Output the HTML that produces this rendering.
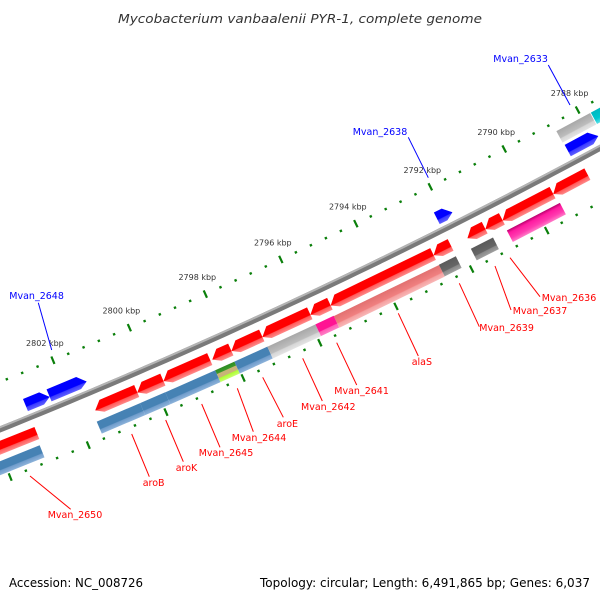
<!DOCTYPE html>
<html><head><meta charset="utf-8"><style>
html,body{margin:0;padding:0;background:#fff;width:600px;height:600px;overflow:hidden}
svg{display:block}
</style></head><body>
<svg id="map" xmlns="http://www.w3.org/2000/svg" width="600" height="600" viewBox="0 0 600 600">
<defs>
<linearGradient id="g-red" x1="0" y1="0" x2="0" y2="1"><stop offset="0" stop-color="#ff0000"/><stop offset="0.62" stop-color="#ff0000"/><stop offset="0.68" stop-color="#ff5a5a"/><stop offset="1" stop-color="#ff8a8a"/></linearGradient>
<linearGradient id="g-steel" x1="0" y1="0" x2="0" y2="1"><stop offset="0" stop-color="#4682b4"/><stop offset="0.62" stop-color="#4682b4"/><stop offset="0.68" stop-color="#6f9ccb"/><stop offset="1" stop-color="#8db3da"/></linearGradient>
<linearGradient id="g-grey" x1="0" y1="0" x2="0" y2="1"><stop offset="0" stop-color="#a8a8a8"/><stop offset="0.6" stop-color="#bdbdbd"/><stop offset="0.68" stop-color="#d6d6d6"/><stop offset="1" stop-color="#e4e4e4"/></linearGradient>
<linearGradient id="g-dgrey" x1="0" y1="0" x2="0" y2="1"><stop offset="0" stop-color="#5a5a5a"/><stop offset="0.62" stop-color="#666"/><stop offset="0.68" stop-color="#888"/><stop offset="1" stop-color="#a0a0a0"/></linearGradient>
<linearGradient id="g-mag" x1="0" y1="0" x2="0" y2="1"><stop offset="0" stop-color="#ff1493"/><stop offset="0.62" stop-color="#ff1493"/><stop offset="0.68" stop-color="#ff5cb4"/><stop offset="1" stop-color="#ff80c8"/></linearGradient>
<linearGradient id="g-pink" x1="0" y1="0" x2="0" y2="1"><stop offset="0" stop-color="#b8006c"/><stop offset="0.25" stop-color="#ff1aa0"/><stop offset="0.68" stop-color="#ff3cb0"/><stop offset="1" stop-color="#ff7cc8"/></linearGradient>
<linearGradient id="g-salmon" x1="0" y1="0" x2="0" y2="1"><stop offset="0" stop-color="#e27070"/><stop offset="0.6" stop-color="#f08080"/><stop offset="0.68" stop-color="#f5a0a0"/><stop offset="1" stop-color="#f8b8b8"/></linearGradient>
<linearGradient id="g-blue" x1="0" y1="0" x2="0" y2="1"><stop offset="0" stop-color="#0000ff"/><stop offset="0.62" stop-color="#0000ff"/><stop offset="0.68" stop-color="#3a3aff"/><stop offset="1" stop-color="#6060ff"/></linearGradient>
<linearGradient id="g-cyan" x1="0" y1="0" x2="0" y2="1"><stop offset="0" stop-color="#00b8c0"/><stop offset="0.62" stop-color="#00c8d0"/><stop offset="1" stop-color="#60e0e8"/></linearGradient>
<linearGradient id="g-multi" x1="0" y1="0" x2="0" y2="1"><stop offset="0" stop-color="#2e8b22"/><stop offset="0.3" stop-color="#3a9a2a"/><stop offset="0.34" stop-color="#c8b478"/><stop offset="0.66" stop-color="#c8b478"/><stop offset="0.7" stop-color="#adff2f"/><stop offset="1" stop-color="#c8ff70"/></linearGradient>
</defs>
<text x="300" y="23" text-anchor="middle" font-family="DejaVu Sans, Liberation Sans, sans-serif" font-style="italic" font-size="12.5" fill="#333" textLength="364" lengthAdjust="spacingAndGlyphs">Mycobacterium vanbaalenii PYR-1, complete genome</text>
<text x="9" y="587" font-family="DejaVu Sans, Liberation Sans, sans-serif" font-size="12" fill="#000" textLength="134" lengthAdjust="spacingAndGlyphs">Accession: NC_008726</text>
<text x="260" y="587" font-family="DejaVu Sans, Liberation Sans, sans-serif" font-size="12" fill="#000" textLength="330" lengthAdjust="spacingAndGlyphs">Topology: circular; Length: 6,491,865 bp; Genes: 6,037</text>
<g id="layer"></g>
</svg>
<script>
// ---- data (kbp) ----
const tickStartKbp = 2786.8;
const tickEndKbp = 2806.0;
const tickStepKbp = 0.4;
const majorStepKbp = 2;
// reverse-strand CDS (outer red track)
const revCdsNames = ['Mvan_2650','aroB','aroK','Mvan_2645','Mvan_2644','aroE','Mvan_2642','Mvan_2641','alaS','Mvan_2639','Mvan_2637','cds_r12','Mvan_2636','cds_r14'];
const revCdsStart = [2803.02,2800.44,2799.76,2798.54,2797.99,2797.18,2795.92,2795.39,2792.66,2792.19,2791.28,2790.82,2789.46,2788.52];
const revCdsEnd   = [2805.00,2801.53,2800.44,2799.76,2798.49,2797.99,2797.18,2795.92,2795.39,2792.66,2791.76,2791.28,2790.82,2789.46];
// reverse-strand COG class track
const revCogStart = [2803.07,2800.48,2799.83,2798.53,2798.03,2797.17,2795.91,2795.43,2792.65,2792.20,2791.21,2789.42];
const revCogEnd   = [2804.40,2801.60,2800.48,2799.83,2798.53,2798.03,2797.17,2795.91,2795.43,2792.65,2791.80,2790.84];
const revCogClass = ['E','E','E','E','multi','E','R','H','J','S','S','T'];
// forward-strand CDS (inner blue track)
const fwdCdsStart = [2802.41,2801.45,2791.80,2787.86];
const fwdCdsEnd   = [2803.02,2802.41,2792.20,2788.67];
// forward-strand COG class track
const fwdCogStart = [2787.77,2786.95];
const fwdCogEnd   = [2788.69,2787.75];
const fwdCogClass = ['R','C'];
// gene labels (annotation layout: leader line + text)
const labelText = ['Mvan_2650','aroB','aroK','Mvan_2645','Mvan_2644','aroE','Mvan_2642','Mvan_2641','alaS','Mvan_2639','Mvan_2637','Mvan_2636','Mvan_2648','Mvan_2638','Mvan_2633'];
const labelStrand = ['r','r','r','r','r','r','r','r','r','r','r','r','f','f','f'];
const labelLine = [[30,476,70.7,509.3],[131.7,434,149.3,476.7],[165.7,420,183.3,461.7],[201.7,404,220,447.3],[237.3,388.3,253.3,431.7],[262.7,377.3,283.3,417.3],[302.7,358.3,322.3,401],[336.7,342.7,356.7,385],[398.3,313.3,418.3,356],[459.3,283.3,479.3,326.7],[495,266,511,310],[510,257.7,540,296.7],[38.3,302.7,51.7,350],[408.3,137.3,428.3,177.7],[548.3,65,570,105]];
const labelPos = [[47.7,518],[142.7,486],[175.7,471],[198.7,456],[231.7,441],[276.7,427],[301,410],[334.3,394],[411.7,365],[479.3,331],[512.7,314],[541.7,301],[9.3,299],[352.7,135],[493.3,62]];

// ---- geometry ----
const CX=-2190, CY=-5020, R0=5873;
const R_UPTICK=5829, R_FCOG=5844, R_FCDS=5860, R_RCDS=5890, R_RCOG=5909, R_LOTICK=5921;
const GH=13;
const NS='http://www.w3.org/2000/svg';
const layer=document.getElementById('layer');
const classFill={E:'url(#g-steel)',multi:'url(#g-multi)',R:'url(#g-grey)',H:'url(#g-mag)',J:'url(#g-salmon)',S:'url(#g-dgrey)',T:'url(#g-pink)',C:'url(#g-cyan)'};
function ang(k){return (62.47+(k-2790)*0.4083)*Math.PI/180;}
function P(k,r){const t=ang(k);return [CX+r*Math.cos(t),CY+r*Math.sin(t)];}
function mk(tag,attrs,parent){const e=document.createElementNS(NS,tag);for(const a in attrs)e.setAttribute(a,attrs[a]);(parent||layer).appendChild(e);return e;}

// backbone
function arcPts(r){const pts=[];for(let k=2784;k<=2808;k+=0.25){const p=P(k,r);pts.push(p[0].toFixed(2)+','+p[1].toFixed(2));}return pts.join(' ');}
const bb=mk('polyline',{points:arcPts(R0),fill:'none',stroke:'#7a7a7a','stroke-width':6});


const bbh=mk('polyline',{points:arcPts(R0-2),fill:'none',stroke:'#b4b4b4','stroke-width':2});



// ticks
function drawTicks(r,withLabels,row){
  const n=Math.round((tickEndKbp-tickStartKbp)/tickStepKbp);
  for(let i=0;i<=n;i++){
    const k=tickStartKbp+i*tickStepKbp;
    const isMajor=Math.abs(k/majorStepKbp-Math.round(k/majorStepKbp))<1e-6;
    const t=ang(k);
    if(isMajor){
      const a=P(k,r-4),b=P(k,r+4);
      const l=mk('line',{x1:a[0],y1:a[1],x2:b[0],y2:b[1],stroke:'#0a7f0a','stroke-width':2.2});
      
      
      if(withLabels){
        const p=P(k,r);
        const tx=mk('text',{x:(p[0]-8).toFixed(1),y:(p[1]-14).toFixed(1),'text-anchor':'middle','font-family':'DejaVu Sans, Liberation Sans, sans-serif','font-size':8,fill:'#333'});
        tx.textContent=Math.round(k)+' kbp';
        
        
      }
    }else{
      const p=P(k,r);
      const d=mk('rect',{x:(p[0]-1.2).toFixed(2),y:(p[1]-1.2).toFixed(2),width:2.4,height:2.4,fill:'#0a7f0a',transform:'rotate('+(t*180/Math.PI-90).toFixed(2)+' '+p[0].toFixed(2)+' '+p[1].toFixed(2)+')'});
      
      
    }
  }
}
drawTicks(R_UPTICK,true,'upper');
drawTicks(R_LOTICK,false,'lower');

// features
function feature(lo,hi,r,fill,arrow){
  const tm=(ang(lo)+ang(hi))/2;
  const L=r*(ang(hi)-ang(lo));
  const c=[CX+r*Math.cos(tm),CY+r*Math.sin(tm)];
  const g=mk('g',{transform:'translate('+c[0].toFixed(2)+' '+c[1].toFixed(2)+') rotate('+(tm*180/Math.PI-90).toFixed(3)+')'});
  const h=GH/2,x0=-L/2,x1=L/2,hd=Math.min(8,L*0.6);
  let pts;
  if(arrow==='left') pts=[[x0+hd,-h],[x1,-h],[x1,h],[x0+hd,h],[x0,h*0.25]];
  else if(arrow==='right') pts=[[x0,-h],[x1-hd,-h],[x1,h*0.25],[x1-hd,h],[x0,h]];
  else pts=[[x0,-h],[x1,-h],[x1,h],[x0,h]];
  const poly=mk('polygon',{points:pts.map(p=>p[0].toFixed(2)+','+p[1].toFixed(2)).join(' '),fill:fill},g);
  return {g:g,poly:poly};
}
for(let i=0;i<revCdsStart.length;i++){
  const f=feature(revCdsStart[i],revCdsEnd[i],R_RCDS,'url(#g-red)','left');
  
  
}
for(let i=0;i<revCogStart.length;i++){
  const f=feature(revCogStart[i],revCogEnd[i],R_RCOG,classFill[revCogClass[i]],'none');
  
  
}
for(let i=0;i<fwdCdsStart.length;i++){
  const f=feature(fwdCdsStart[i],fwdCdsEnd[i],R_FCDS,'url(#g-blue)','right');
  
  
}
for(let i=0;i<fwdCogStart.length;i++){
  const f=feature(fwdCogStart[i],fwdCogEnd[i],R_FCOG,classFill[fwdCogClass[i]],'none');
  
  
}

// labels
for(let i=0;i<labelText.length;i++){
  const col=labelStrand[i]==='r'?'#ff0000':'#0000ff';
  const ln=labelLine[i];
  const l=mk('line',{x1:ln[0],y1:ln[1],x2:ln[2],y2:ln[3],stroke:col,'stroke-width':1});
  
  
  const t=mk('text',{x:labelPos[i][0],y:labelPos[i][1],'font-family':'DejaVu Sans, Liberation Sans, sans-serif','font-size':9.5,fill:col});
  t.textContent=labelText[i];
  
  
}
</script>
</body></html>
